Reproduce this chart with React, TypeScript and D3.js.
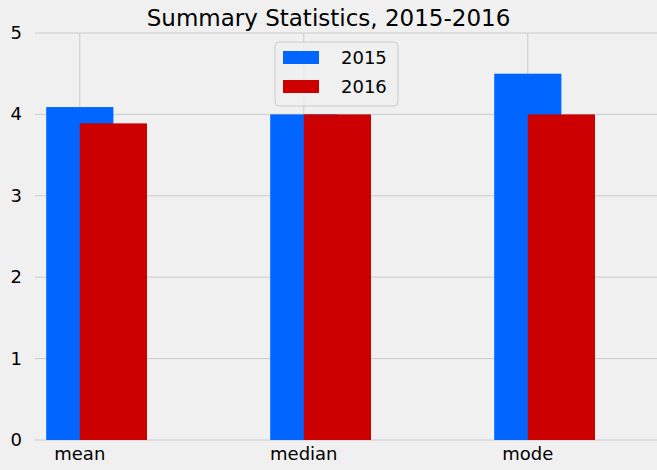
import React from "react";
import * as d3 from "d3";

const categories = ["mean", "median", "mode"];
const values2015 = [4.09, 4.0, 4.5];
const values2016 = [3.89, 4.0, 4.0];
const yTicks = [0, 1, 2, 3, 4, 5];
const seriesNames = ["2015", "2016"];
const colors = ["#0066ff", "#cc0000"];

const W = 657;
const H = 470;
const font = "DejaVu Sans, sans-serif";

export default function App() {
  const x = d3.scaleLinear().domain([-0.2, 2.55]).range([35, 651]);
  const y = d3.scaleLinear().domain([0, 5]).range([440, 33]);
  const bw = x(0.3) - x(0);
  const series = [values2015, values2016];
  const offsets = [0, 0.15];

  return (
    <div style={{ position: "absolute", left: 0, top: 0 }}>
      <svg width={W} height={H} style={{ display: "block", background: "#f0f0f0" }}>
        <text x={W / 2} y={26} textAnchor="middle" fontFamily={font} fontSize={23} fill="#000">
          Summary Statistics, 2015-2016
        </text>
        {yTicks.map((t) => (
          <g key={t}>
            <line x1={35} x2={W} y1={y(t)} y2={y(t)} stroke="#cbcbcb" strokeWidth={1} />
            <text x={22} y={y(t) + 6} textAnchor="end" fontFamily={font} fontSize={18} fill="#000">
              {t}
            </text>
          </g>
        ))}
        {categories.map((c, i) => (
          <g key={c}>
            <line x1={x(i)} x2={x(i)} y1={33} y2={440} stroke="#cbcbcb" strokeWidth={1} />
            <text x={x(i)} y={460} textAnchor="middle" fontFamily={font} fontSize={18} fill="#000">
              {c}
            </text>
          </g>
        ))}
        {series.map((vals, s) =>
          vals.map((v, i) => (
            <rect
              key={`${s}-${i}`}
              x={x(i + offsets[s]) - bw / 2}
              y={y(v)}
              width={bw}
              height={y(0) - y(v)}
              fill={colors[s]}
            />
          ))
        )}
        <g transform="translate(275,42)">
          <rect x={0} y={0} width={123} height={64} rx={4} fill="#f0f0f0" fillOpacity={0.8} stroke="#cccccc" />
          {seriesNames.map((n, i) => (
            <g key={n} transform={`translate(8,${9 + i * 29})`}>
              <rect x={0} y={0} width={36} height={13} fill={colors[i]} />
              <text x={58} y={13} fontFamily={font} fontSize={18} fill="#000">
                {n}
              </text>
            </g>
          ))}
        </g>
      </svg>
    </div>
  );
}
